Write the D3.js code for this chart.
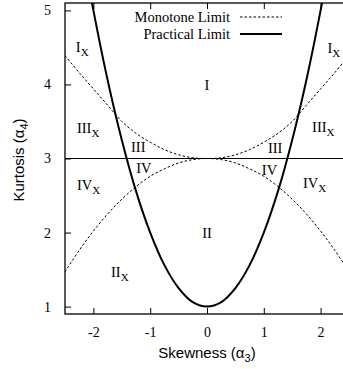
<!DOCTYPE html>
<html><head><meta charset="utf-8">
<script src="https://cdn.jsdelivr.net/npm/d3@7"></script>
<style>body{margin:0;background:#fff}svg{display:block}</style>
</head><body>
<script>
// ---- data ----
const skewness = [-2.5,-2.25,-2,-1.75,-1.5,-1.25,-1,-0.75,-0.5,-0.25,0,0.25,0.5,0.75,1,1.25,1.5,1.75,2,2.25,2.5];
const practicalLimit = [7.25,6.06,5,4.06,3.25,2.56,2,1.56,1.25,1.06,1,1.06,1.25,1.56,2,2.56,3.25,4.06,5,6.06,7.25];
const monotoneUpper = [4.39,4.16,3.94,3.72,3.50,3.34,3.22,3.12,3.05,3.01,3,3.01,3.05,3.12,3.22,3.34,3.50,3.72,3.94,4.16,4.39];
const monotoneLower = [1.47,1.76,2.02,2.25,2.45,2.62,2.76,2.86,2.94,2.985,3,2.985,2.94,2.86,2.76,2.62,2.45,2.25,2.02,1.76,1.47];
const normalKurtosis = 3;
const xTicks = [-2,-1,0,1,2];
const yTicks = [1,2,3,4,5];
const regionNames = ["I","I","I","III","III","III","III","IV","IV","IV","IV","II","II"];
const regionSubs  = ["X","X","","X","X","","","","","X","X","","X"];
const regionX     = [-2.31,2.12,0,-2.29,1.85,-1.21,1.2,-1.11,1.1,-2.29,1.69,0,-1.69];
const regionY     = [4.44,4.43,3.92,3.34,3.36,3.09,3.08,2.80,2.78,2.57,2.60,1.93,1.40];
const regionAnchor= ["start","start","middle","start","start","middle","middle","middle","middle","start","start","middle","start"];
const legendLabels = ["Monotone Limit","Practical Limit"];

// ---- layout ----
const W = 343, H = 369;
const L = 65, R = 349, T = 3, B = 314;
const serif = "'Liberation Serif','Times New Roman',serif";
const sans = "'Liberation Sans',Arial,sans-serif";

const svg = d3.select("body").append("svg").attr("width", W).attr("height", H);
const x = d3.scaleLinear().domain([-2.5, 2.5]).range([L, R]);
const y = d3.scaleLinear().domain([0.9, 5.1]).range([B, T]);

svg.append("defs").append("clipPath").attr("id","clip")
  .append("rect").attr("x",L).attr("y",T).attr("width",R-L).attr("height",B-T);

const g = svg.append("g").attr("clip-path","url(#clip)");

// normal kurtosis line
g.append("line").attr("x1",x(-2.5)).attr("x2",x(2.5))
  .attr("y1",y(normalKurtosis)).attr("y2",y(normalKurtosis))
  .attr("stroke","#000").attr("stroke-width",1.1);

const line = (vals) => d3.line().x((d,i)=>x(skewness[i])).y(d=>y(d)).curve(d3.curveCatmullRom)(vals);

g.append("path").attr("d", line(monotoneUpper)).attr("fill","none")
  .attr("stroke","#000").attr("stroke-width",1).attr("stroke-dasharray","2.5,2");
g.append("path").attr("d", line(monotoneLower)).attr("fill","none")
  .attr("stroke","#000").attr("stroke-width",1).attr("stroke-dasharray","2.5,2");
g.append("path").attr("d", line(practicalLimit)).attr("fill","none")
  .attr("stroke","#000").attr("stroke-width",2);

// frame
svg.append("rect").attr("x",L).attr("y",T).attr("width",R-L).attr("height",B-T)
  .attr("fill","none").attr("stroke","#000").attr("stroke-width",1.3);

// axes with inward ticks
const fmt = d => String(d);
const ax = svg.append("g");
ax.append("g").attr("transform",`translate(0,${B})`)
  .call(d3.axisBottom(x).tickValues(xTicks).tickSizeInner(-6).tickSizeOuter(0).tickPadding(13).tickFormat(fmt));
ax.append("g").attr("transform",`translate(0,${T})`)
  .call(d3.axisTop(x).tickValues(xTicks).tickSizeInner(-6).tickSizeOuter(0).tickFormat(""));
ax.append("g").attr("transform",`translate(${L},0)`)
  .call(d3.axisLeft(y).tickValues(yTicks).tickSizeInner(-6).tickSizeOuter(0).tickPadding(14).tickFormat(fmt));
ax.append("g").attr("transform",`translate(${R},0)`)
  .call(d3.axisRight(y).tickValues(yTicks).tickSizeInner(-6).tickSizeOuter(0).tickFormat(""));
ax.selectAll(".domain").remove();
ax.selectAll("g").attr("font-family",serif).attr("font-size",14);
ax.selectAll(".tick line").attr("stroke","#000").attr("stroke-width",1);
ax.selectAll(".tick text").style("font-family",serif).style("font-size","14px").attr("fill","#000");

// region labels
regionNames.forEach((n,i)=>{
  const t = svg.append("text").attr("x",x(regionX[i])).attr("y",y(regionY[i]))
    .attr("text-anchor",regionAnchor[i]).attr("font-family",serif).attr("font-size",14.5).attr("fill","#000");
  t.append("tspan").text(n);
  if (regionSubs[i]) t.append("tspan").attr("font-size",11).attr("dy",4).text(regionSubs[i]);
});

// legend
const lg = svg.append("g");
legendLabels.forEach((lab,i)=>{
  const yy = 17 + i*17;
  lg.append("text").attr("x",230).attr("y",yy+5).attr("text-anchor","end")
    .attr("font-family",serif).attr("font-size",14.5).text(lab);
  lg.append("line").attr("x1",240).attr("x2",282).attr("y1",yy).attr("y2",yy)
    .attr("stroke","#000").attr("stroke-width", i===0?1:2)
    .attr("stroke-dasharray", i===0?"2.5,2":null);
});

// axis titles
const xt = svg.append("text").attr("x",207).attr("y",358).attr("text-anchor","middle")
  .attr("font-family",sans).attr("font-size",15);
xt.append("tspan").text("Skewness (α");
xt.append("tspan").attr("font-size",11).attr("dy",4).text("3");
xt.append("tspan").attr("dy",-4).text(")");

const yt = svg.append("text").attr("transform","translate(24,160) rotate(-90)").attr("text-anchor","middle")
  .attr("font-family",sans).attr("font-size",15);
yt.append("tspan").text("Kurtosis (α");
yt.append("tspan").attr("font-size",11).attr("dy",4).text("4");
yt.append("tspan").attr("dy",-4).text(")");
</script>
</body></html>
